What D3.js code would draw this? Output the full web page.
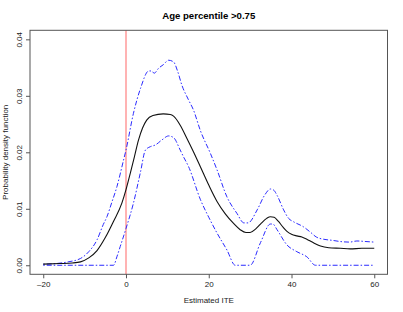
<!DOCTYPE html>
<html>
<head>
<meta charset="utf-8">
<script src="https://cdn.jsdelivr.net/npm/d3@7"></script>
<style>
  body { margin: 0; background: #fff; }
  svg { display: block; font-family: "Liberation Sans", Arial, sans-serif; }
  .axis text { fill: #222; font-size: 8px; }
  .axis line, .axis path { stroke: #555; }
</style>
</head>
<body>
<svg id="chart" width="403" height="312"></svg>
<script>
// --- Values --------------------------------------------
const xTicks = [-20, 0, 20, 40, 60];
const yTicks = [0, 0.01, 0.02, 0.03, 0.04];
const cutoff = 0;

// mean density (black, solid)
const meanCurve = [
  [-20, 0.0002], [-16, 0.0003], [-13, 0.0004], [-11, 0.0006], [-9, 0.0013],
  [-7, 0.0026], [-5, 0.0049], [-3, 0.0078], [-1, 0.0110], [0, 0.0134],
  [1, 0.0162], [2, 0.0191], [3, 0.0221], [4, 0.0243], [5, 0.0257],
  [6.5, 0.0265], [9, 0.0268], [10.7, 0.0267], [11.5, 0.0264], [13.1, 0.0248],
  [14.7, 0.0225], [16.3, 0.0201], [18, 0.0174], [20, 0.0142], [22, 0.0113],
  [24, 0.0091], [26, 0.0074], [27.6, 0.0063], [29, 0.0058], [30, 0.0058],
  [31.3, 0.0064], [32.5, 0.0073], [34, 0.0083], [34.9, 0.0086], [35.8, 0.0085],
  [36.8, 0.0078], [38, 0.0067], [38.9, 0.0060], [40, 0.0055], [41.3, 0.0052],
  [42.5, 0.0050], [43.7, 0.0046], [45, 0.0041], [47, 0.0034], [49, 0.0031],
  [51.8, 0.0030], [54.2, 0.0029], [57, 0.0030], [60, 0.0030]
];

// upper band (blue, dot-dash)
const upperCurve = [
  [-20, 0.0002], [-17, 0.0003], [-14, 0.0006], [-11, 0.0012], [-9, 0.0024],
  [-7, 0.0045], [-5.5, 0.0072], [-4.6, 0.0086], [-3.4, 0.0112], [-2.2, 0.0139],
  [-0.6, 0.0186], [0, 0.0204], [1.8, 0.0269], [3.5, 0.0313], [5.5, 0.0344],
  [6.2, 0.0344], [6.8, 0.0340], [7.9, 0.0349], [9, 0.0355], [10.3, 0.0363],
  [11.5, 0.0360], [12.5, 0.0343], [13.5, 0.0319], [15.1, 0.0293], [16.3, 0.0275],
  [18, 0.0238], [20.4, 0.0198], [22, 0.0169], [24.4, 0.0121], [26.8, 0.0092],
  [28.5, 0.0075], [29.5, 0.0075], [31.7, 0.0098], [33.5, 0.0124], [34.9, 0.0135],
  [35.7, 0.0133], [36.5, 0.0124], [38.1, 0.0098], [39.3, 0.0083], [40.5, 0.0077],
  [42.9, 0.0068], [44.5, 0.0059], [46, 0.0050], [47.8, 0.0046], [50, 0.0044],
  [51.8, 0.0042], [54, 0.0041], [55.8, 0.0043], [58, 0.0042], [60, 0.0041]
];

// lower band (blue, dot-dash)
const lowerCurve = [
  [-20, 0], [-3, 0], [-2.2, 0.0015], [-1.4, 0.0033], [0, 0.0065],
  [1.8, 0.0110], [3.5, 0.0165], [4.7, 0.0204], [5.9, 0.0210], [7.1, 0.0213],
  [8.7, 0.0222], [10.3, 0.0229], [11.5, 0.0226], [13.1, 0.0204], [13.9, 0.0192],
  [15.1, 0.0175], [18, 0.0116], [20, 0.0085], [22, 0.0057], [24.4, 0.0027],
  [26.4, 0], [30, 0], [32.5, 0.0040], [34.9, 0.0073], [35.5, 0.0073],
  [36.5, 0.0063], [38.9, 0.0036], [41.3, 0.0024], [43.7, 0.0015], [45.8, 0],
  [60, 0]
];

// --- Plot --------------------------------------------
const svg = d3.select("#chart");
const box = {left: 30, right: 387.5, top: 30.3, bottom: 274.3};

// R style: 4% padding around the data range
const x = d3.scaleLinear().domain([-23.2, 63.2]).range([box.left, box.right]);
const y = d3.scaleLinear().domain([-0.0016, 0.0416]).range([box.bottom, box.top]);

const line = d3.line()
  .x(d => x(d[0]))
  .y(d => y(d[1]))
  .curve(d3.curveMonotoneX);

// cutoff line goes under the curves
svg.append("line")
  .attr("x1", x(cutoff)).attr("x2", x(cutoff))
  .attr("y1", box.top).attr("y2", box.bottom)
  .attr("stroke", "#ffb3b3")
  .attr("stroke-width", 2);

svg.append("path")
  .datum(upperCurve)
  .attr("d", line)
  .attr("fill", "none")
  .attr("stroke", "#2b2bff")
  .attr("stroke-width", 1)
  .attr("stroke-dasharray", "1.5,2,5,2");

svg.append("path")
  .datum(lowerCurve)
  .attr("d", line)
  .attr("fill", "none")
  .attr("stroke", "#2b2bff")
  .attr("stroke-width", 1)
  .attr("stroke-dasharray", "1.5,2,5,2");

svg.append("path")
  .datum(meanCurve)
  .attr("d", line)
  .attr("fill", "none")
  .attr("stroke", "#111")
  .attr("stroke-width", 1.1);

// box
svg.append("rect")
  .attr("x", box.left).attr("y", box.top)
  .attr("width", box.right - box.left)
  .attr("height", box.bottom - box.top)
  .attr("fill", "none")
  .attr("stroke", "#555")
  .attr("stroke-width", 1);

// x axis
const gx = svg.append("g")
  .attr("class", "axis")
  .attr("transform", "translate(0," + box.bottom + ")")
  .call(d3.axisBottom(x).tickValues(xTicks).tickSize(4).tickPadding(3).tickSizeOuter(0));
gx.select(".domain").remove();
gx.selectAll("text").text(d => d < 0 ? "\u2013" + Math.abs(d) : d);

// y axis, labels turned like R's default
const gy = svg.append("g")
  .attr("class", "axis")
  .attr("transform", "translate(" + box.left + ",0)")
  .call(d3.axisLeft(y).tickValues(yTicks).tickSize(4).tickFormat(d3.format(".2f")));
gy.select(".domain").remove();
gy.selectAll("text")
  .attr("x", null).attr("dy", null)
  .attr("text-anchor", "middle")
  .attr("transform", "translate(-8,0) rotate(-90)");

// titles
svg.append("text")
  .attr("x", (box.left + box.right) / 2)
  .attr("y", 19)
  .attr("text-anchor", "middle")
  .attr("font-weight", "bold")
  .attr("font-size", "9.6px")
  .text("Age percentile >0.75");

svg.append("text")
  .attr("x", (box.left + box.right) / 2)
  .attr("y", 302.5)
  .attr("text-anchor", "middle")
  .attr("font-size", "8px")
  .attr("fill", "#222")
  .text("Estimated ITE");

svg.append("text")
  .attr("transform", "translate(8," + (box.top + box.bottom) / 2 + ") rotate(-90)")
  .attr("text-anchor", "middle")
  .attr("font-size", "8px")
  .attr("fill", "#222")
  .text("Probability density function");
</script>
</body>
</html>
